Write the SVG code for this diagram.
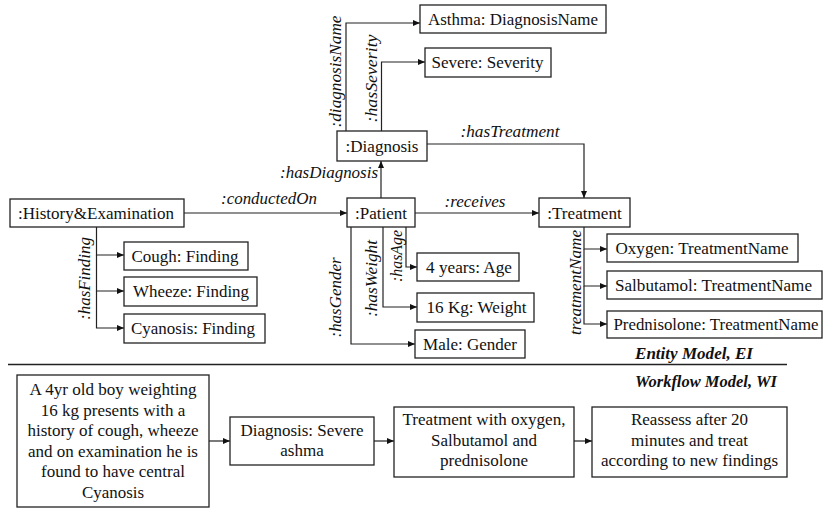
<svg xmlns="http://www.w3.org/2000/svg" width="823" height="510" viewBox="0 0 823 510">
<style>
text{font-family:"Liberation Serif","Times New Roman",Times,serif}
.b{fill:#fff;stroke:#222;stroke-width:1.3}
.t{font-size:17px;fill:#111;text-anchor:middle}
.l{font-size:17px;font-style:italic;fill:#111;text-anchor:middle}
.h{font-size:16px;font-style:italic;font-weight:bold;fill:#111;text-anchor:end}
.c{fill:none;stroke:#222;stroke-width:1.2;marker-end:url(#a)}
</style>
<defs>
<marker id="a" markerWidth="7" markerHeight="6" refX="7" refY="3" orient="auto" markerUnits="userSpaceOnUse">
<path d="M0,0 L7,3 L0,6 z" fill="#111"/>
</marker>
</defs>
<rect width="823" height="510" fill="#fff"/>
<g id="connectors">
<path class="c" d="M346,131 V23 H420"/>
<path class="c" d="M381.5,131 V62 H425"/>
<path class="c" d="M427,144 H584 V198"/>
<path class="c" d="M381,198 V161"/>
<path class="c" d="M184,213 H347"/>
<path class="c" d="M415,213 H539"/>
<path class="c" d="M96.5,227 V255 H124"/>
<path class="c" d="M96.5,255 V291 H124"/>
<path class="c" d="M96.5,291 V328 H124"/>
<path class="c" d="M351,227 V344 H415"/>
<path class="c" d="M383,227 V307 H417"/>
<path class="c" d="M406,227 V267 H417"/>
<path class="c" d="M584,227 V249 H607"/>
<path class="c" d="M584,249 V286 H607"/>
<path class="c" d="M584,286 V324 H607"/>
<path class="c" d="M209,441 H230"/>
<path class="c" d="M374,441 H394"/>
<path class="c" d="M574,441 H592"/>
<text class="l" transform="translate(341,71.5) rotate(-90)" textLength="112" lengthAdjust="spacingAndGlyphs">:diagnosisName</text>
<text class="l" transform="translate(377,78.5) rotate(-90)" textLength="88" lengthAdjust="spacingAndGlyphs">:hasSeverity</text>
<text class="l" x="510" y="137" textLength="99" lengthAdjust="spacingAndGlyphs">:hasTreatment</text>
<text class="l" x="329" y="178" textLength="98" lengthAdjust="spacingAndGlyphs">:hasDiagnosis</text>
<text class="l" x="269" y="204" textLength="96" lengthAdjust="spacingAndGlyphs">:conductedOn</text>
<text class="l" x="475" y="207" textLength="61" lengthAdjust="spacingAndGlyphs">:receives</text>
<text class="l" transform="translate(90,278.5) rotate(-90)" textLength="83" lengthAdjust="spacingAndGlyphs">:hasFinding</text>
<text class="l" transform="translate(341,297.5) rotate(-90)" textLength="80" lengthAdjust="spacingAndGlyphs">:hasGender</text>
<text class="l" transform="translate(377,278.5) rotate(-90)" textLength="77" lengthAdjust="spacingAndGlyphs">:hasWeight</text>
<text class="l" transform="translate(402,256) rotate(-90)" textLength="52" lengthAdjust="spacingAndGlyphs">:hasAge</text>
<text class="l" transform="translate(581,282.5) rotate(-90)" textLength="105" lengthAdjust="spacingAndGlyphs">treatmentName</text>
</g>
<g id="asthma"><rect class="b" x="420" y="5" width="186" height="28"/><text class="t" x="513" y="25" textLength="170" lengthAdjust="spacingAndGlyphs">Asthma: DiagnosisName</text></g>
<g id="severe"><rect class="b" x="425" y="48" width="126" height="29"/><text class="t" x="487.5" y="68" textLength="112" lengthAdjust="spacingAndGlyphs">Severe: Severity</text></g>
<g id="diagnosis"><rect class="b" x="337" y="131" width="90" height="30"/><text class="t" x="382" y="152" textLength="73" lengthAdjust="spacingAndGlyphs">:Diagnosis</text></g>
<g id="history"><rect class="b" x="10" y="199" width="174" height="28"/><text class="t" x="96" y="219" textLength="156" lengthAdjust="spacingAndGlyphs">:History&amp;Examination</text></g>
<g id="patient"><rect class="b" x="347" y="198" width="68" height="29"/><text class="t" x="381" y="219" textLength="52" lengthAdjust="spacingAndGlyphs">:Patient</text></g>
<g id="treatment"><rect class="b" x="539" y="198" width="91" height="29"/><text class="t" x="584.5" y="219" textLength="74.5" lengthAdjust="spacingAndGlyphs">:Treatment</text></g>
<g id="cough"><rect class="b" x="124" y="242" width="124" height="28"/><text class="t" x="185" y="262" textLength="107" lengthAdjust="spacingAndGlyphs">Cough: Finding</text></g>
<g id="wheeze"><rect class="b" x="124" y="277" width="133" height="29"/><text class="t" x="191" y="297" textLength="116" lengthAdjust="spacingAndGlyphs">Wheeze: Finding</text></g>
<g id="cyanosis"><rect class="b" x="124" y="314" width="141" height="29"/><text class="t" x="193" y="334" textLength="124" lengthAdjust="spacingAndGlyphs">Cyanosis: Finding</text></g>
<g id="age"><rect class="b" x="417" y="253" width="102" height="28"/><text class="t" x="469" y="273" textLength="86" lengthAdjust="spacingAndGlyphs">4 years: Age</text></g>
<g id="weight"><rect class="b" x="417" y="293" width="117" height="29"/><text class="t" x="476.5" y="313" textLength="100" lengthAdjust="spacingAndGlyphs">16 Kg: Weight</text></g>
<g id="gender"><rect class="b" x="415" y="330" width="110" height="28"/><text class="t" x="470" y="350" textLength="94" lengthAdjust="spacingAndGlyphs">Male: Gender</text></g>
<g id="oxygen"><rect class="b" x="607" y="234" width="191" height="28"/><text class="t" x="702" y="254" textLength="173" lengthAdjust="spacingAndGlyphs">Oxygen: TreatmentName</text></g>
<g id="salbutamol"><rect class="b" x="607" y="271" width="215" height="28"/><text class="t" x="713.5" y="291" textLength="197" lengthAdjust="spacingAndGlyphs">Salbutamol: TreatmentName</text></g>
<g id="prednisolone"><rect class="b" x="607" y="311" width="215" height="27"/><text class="t" x="716" y="330" textLength="205" lengthAdjust="spacingAndGlyphs">Prednisolone: TreatmentName</text></g>
<text class="h" x="753" y="359" textLength="118" lengthAdjust="spacingAndGlyphs">Entity Model, EI</text>
<line x1="8" y1="364.5" x2="787" y2="364.5" stroke="#222" stroke-width="1.5"/>
<text class="h" x="777" y="387" textLength="142" lengthAdjust="spacingAndGlyphs">Workflow Model, WI</text>
<g id="case"><rect class="b" x="17" y="375" width="192" height="132"/>
<text class="t" x="113" y="395" textLength="167" lengthAdjust="spacingAndGlyphs">A 4yr old boy weighting</text>
<text class="t" x="113" y="415.5" textLength="144.5" lengthAdjust="spacingAndGlyphs">16 kg presents with a</text>
<text class="t" x="113" y="436" textLength="171" lengthAdjust="spacingAndGlyphs">history of cough, wheeze</text>
<text class="t" x="113" y="456.5" textLength="170" lengthAdjust="spacingAndGlyphs">and on examination he is</text>
<text class="t" x="113" y="477" textLength="144" lengthAdjust="spacingAndGlyphs">found to have central</text>
<text class="t" x="113" y="497.5" textLength="62" lengthAdjust="spacingAndGlyphs">Cyanosis</text></g>
<g id="wf-diagnosis"><rect class="b" x="230" y="417" width="144" height="48"/>
<text class="t" x="302" y="436" textLength="123" lengthAdjust="spacingAndGlyphs">Diagnosis: Severe</text>
<text class="t" x="302" y="456" textLength="43.5" lengthAdjust="spacingAndGlyphs">ashma</text></g>
<g id="wf-treatment"><rect class="b" x="394" y="407" width="180" height="70"/>
<text class="t" x="484" y="425" textLength="163" lengthAdjust="spacingAndGlyphs">Treatment with oxygen,</text>
<text class="t" x="484" y="446" textLength="106" lengthAdjust="spacingAndGlyphs">Salbutamol and</text>
<text class="t" x="484" y="466" textLength="88" lengthAdjust="spacingAndGlyphs">prednisolone</text></g>
<g id="wf-reassess"><rect class="b" x="592" y="407" width="195" height="70"/>
<text class="t" x="689.5" y="425" textLength="117" lengthAdjust="spacingAndGlyphs">Reassess after 20</text>
<text class="t" x="689.5" y="446" textLength="117" lengthAdjust="spacingAndGlyphs">minutes and treat</text>
<text class="t" x="689.5" y="466" textLength="177" lengthAdjust="spacingAndGlyphs">according to new findings</text></g>
</svg>
